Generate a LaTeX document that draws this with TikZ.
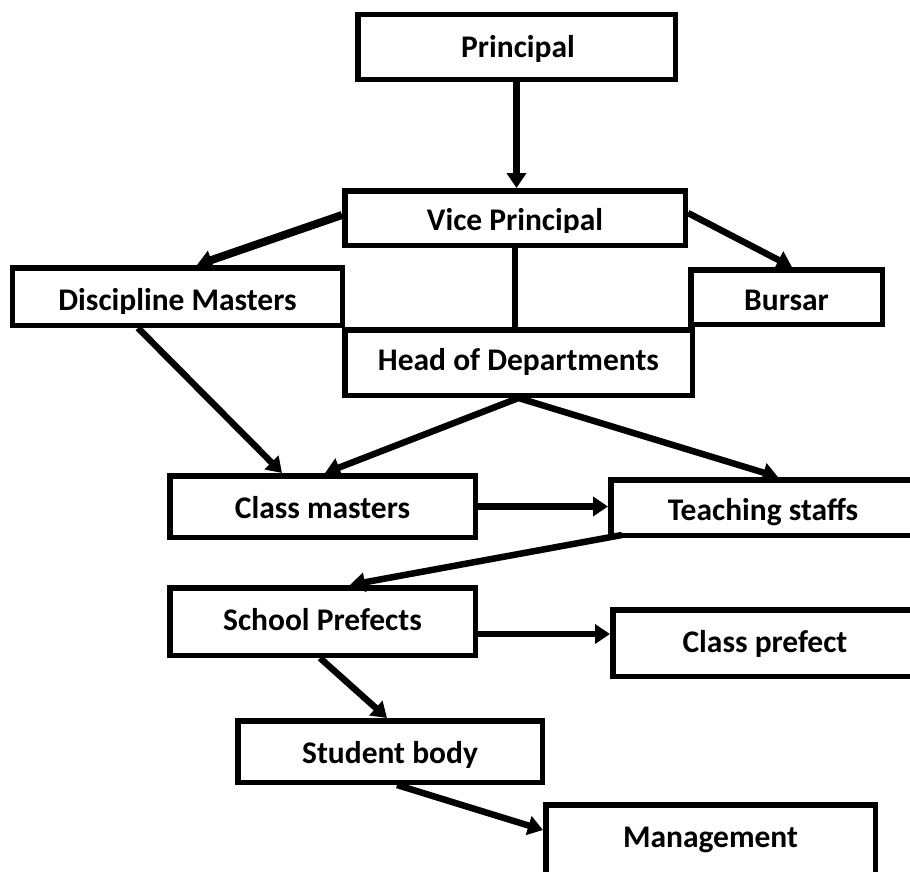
\documentclass[tikz,border=0pt]{standalone}
\usepackage{fontspec}
\setmainfont{Carlito}
\usetikzlibrary{arrows.meta,calc}
\begin{document}
\begin{tikzpicture}[x=1bp,y=-1bp,
  box/.style={draw=black, line width=5.5bp, rectangle, inner sep=0pt},
  lbl/.style={font=\fontsize{31.6pt}{38pt}\selectfont\bfseries, inner sep=0pt, anchor=base},
  link/.style={line width=6.5bp, -{Triangle[length=15bp,width=19bp]}},
  plainlink/.style={line width=6.5bp}]
\clip (0,0) rectangle (910,872);

% boxes
\node[box, minimum width=317.5bp, minimum height=64.5bp] (pr) at (516.5,47) {};
\node[box, minimum width=340.5bp, minimum height=54.5bp] (vp) at (515,218) {};
\node[box, minimum width=329.5bp, minimum height=57.5bp] (dm) at (177.5,296.5) {};
\node[box, minimum width=191.5bp, minimum height=54.5bp] (bu) at (786.5,297) {};
\node[box, minimum width=347.5bp, minimum height=65.5bp] (hd) at (518.5,362.5) {};
\node[box, minimum width=305.5bp, minimum height=61.5bp] (cm) at (322.5,506.5) {};
\node[box, minimum width=304.5bp, minimum height=55.5bp] (ts) at (763,507.5) {};
\node[box, minimum width=305.5bp, minimum height=67.5bp] (sp) at (322.5,621.5) {};
\node[box, minimum width=304.5bp, minimum height=66.5bp] (cp) at (765,643) {};
\node[box, minimum width=304.5bp, minimum height=61.5bp] (sb) at (390,751.5) {};
\node[box, minimum width=329.5bp, minimum height=72.5bp] (mg) at (710.5,841) {};

% labels
\node[lbl] (prt) at ([xshift=1.5bp,yshift=-10bp]pr.center) {Principal};
\begin{scope}
  \clip (vp.north west) rectangle ([yshift=-14bp]vp.east);
  \node[lbl] (vpt) at ([yshift=-12bp]vp.center) {Vice Principal};
\end{scope}
\begin{scope}
  \clip (dm.north west) rectangle ([yshift=-16.5bp]dm.east);
  \node[lbl] (dmt) at ([yshift=-13.5bp]dm.center) {Discipline Masters};
\end{scope}
\node[lbl] (but) at ([yshift=-13bp]bu.center) {Bursar};
\node[lbl] (hdt) at ([yshift=-7.5bp]hd.center) {Head of Departments};
\node[lbl] (cmt) at ([yshift=-11.5bp]cm.center) {Class masters};
\node[lbl] (tst) at ([yshift=-12.5bp]ts.center) {Teaching staffs};
\node[lbl] (spt) at ([yshift=-8.5bp]sp.center) {School Prefects};
\node[lbl] (cpt) at ([yshift=-9bp]cp.center) {Class prefect};
\node[lbl] (sbt) at ([yshift=-11.5bp]sb.center) {Student body};
\node[lbl] (mgt) at ([yshift=-6bp]mg.center) {Management};

% connectors
\draw[link] (pr.south) -- (pr.south |- vp.north);
\draw[link, line width=8bp] ([yshift=3bp]vp.west) -- ([xshift=19.5bp]dm.north);
\draw[link] ([yshift=5bp]vp.east) -- ([xshift=5.5bp]bu.north);
\draw[plainlink] (vp.south) -- (vp.south |- hd.north);
\draw[link] ([xshift=128bp]dm.south west) -- ([xshift=115bp]cm.north west);
\draw[line width=6.5bp, {Triangle[length=15bp,width=19bp]}-{Triangle[length=15bp,width=19bp]}]
  ([xshift=158bp]cm.north west) -- (hd.south) -- ([xshift=170bp]ts.north west);
\draw[link] (cm.east) -- (cm.east -| ts.west);
\draw[link] ([xshift=14bp,yshift=3bp]ts.south west) -- ([xshift=183bp]sp.north west);
\draw[link] ([yshift=-12.5bp]sp.east) coordinate (spr) -- (spr -| cp.west);
\draw[link] ([xshift=153bp]sp.south west) -- ([xshift=152bp]sb.north west);
\draw[link] ([xshift=162bp]sb.south west) -- ([yshift=11bp]mg.west);
\end{tikzpicture}
\end{document}
